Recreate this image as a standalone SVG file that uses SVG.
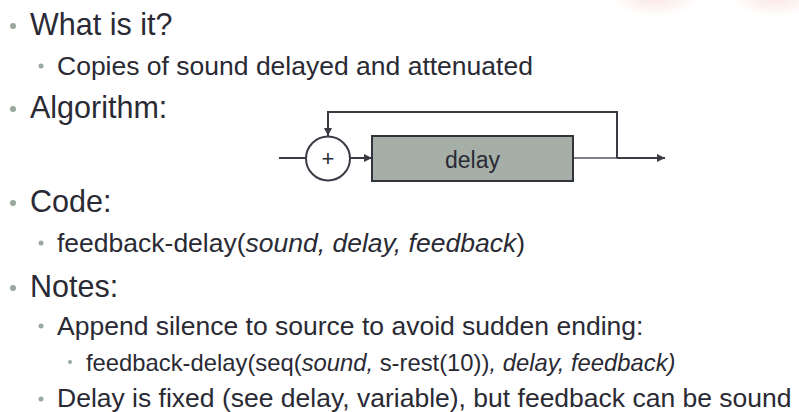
<svg xmlns="http://www.w3.org/2000/svg" width="799" height="412" viewBox="0 0 799 412">
<defs>
<radialGradient id="glow" cx="0.5" cy="0.5" r="0.5">
<stop offset="0" stop-color="#f2c4b4" stop-opacity="0.45"/>
<stop offset="1" stop-color="#f2c4b4" stop-opacity="0"/>
</radialGradient>
<marker id="arr" viewBox="0 0 10 10" refX="10" refY="5" markerWidth="8" markerHeight="8" markerUnits="userSpaceOnUse" orient="auto">
<path d="M0,0 L10,5 L0,10 z" fill="#3a3a44"/>
</marker>
<style>
text{font-family:"Liberation Sans",Arial,sans-serif;fill:#2a2a34}
.l1{font-size:30.5px}
.l2{font-size:26.5px}
.l3{font-size:23.8px}
.b{fill:#9aa89d}
.ln{stroke:#3a3a44;stroke-width:2;fill:none}
</style>
</defs>
<rect width="799" height="412" fill="#ffffff"/>
<ellipse cx="655" cy="-5" rx="45" ry="22" fill="url(#glow)"/>
<ellipse cx="775" cy="-5" rx="45" ry="22" fill="url(#glow)"/>

<g id="bullets">
<circle class="b" cx="13" cy="26" r="3"/>
<circle class="b" cx="41" cy="66" r="2.5"/>
<circle class="b" cx="13" cy="109" r="3"/>
<circle class="b" cx="13" cy="203" r="3"/>
<circle class="b" cx="41" cy="243" r="2.5"/>
<circle class="b" cx="13" cy="288" r="3"/>
<circle class="b" cx="41" cy="326" r="2.5"/>
<circle class="b" cx="70" cy="362" r="2"/>
<circle class="b" cx="41" cy="399" r="2.5"/>
</g>

<g id="texts">
<text class="l1" x="30" y="35">What is it?</text>
<text class="l2" x="57" y="75">Copies of sound delayed and attenuated</text>
<text class="l1" x="30" y="118">Algorithm:</text>
<text class="l1" x="30" y="212">Code:</text>
<text class="l2" x="57" y="252">feedback-delay(<tspan font-style="italic">sound, delay, feedback</tspan>)</text>
<text class="l1" x="30" y="297">Notes:</text>
<text class="l2" x="57" y="335">Append silence to source to avoid sudden ending:</text>
<text class="l3" x="86" y="371">feedback-delay(seq(<tspan font-style="italic">sound,</tspan> s-rest(10))<tspan font-style="italic">, delay, feedback)</tspan></text>
<text class="l2" x="57" y="407">Delay is fixed (see delay, variable), but feedback can be sound</text>
</g>

<g id="connectors">
<line class="ln" x1="279" y1="158" x2="306" y2="158"/>
<line class="ln" x1="350" y1="158" x2="372" y2="158" marker-end="url(#arr)"/>
<line x1="573" y1="158" x2="617" y2="158" stroke="#55555f" stroke-width="1.5"/>
<line class="ln" x1="617" y1="158" x2="665" y2="158" marker-end="url(#arr)"/>
<polyline class="ln" points="617,158 617,112 328,112 328,136" marker-end="url(#arr)"/>
</g>

<g id="sum">
<circle cx="328" cy="158.5" r="22" fill="#ffffff" stroke="#3a3a44" stroke-width="2"/>
<text x="328" y="166" font-size="22" text-anchor="middle">+</text>
</g>

<g id="delay">
<rect x="372" y="136" width="201" height="45" fill="#a5aea7" stroke="#33333d" stroke-width="2"/>
<text x="472.5" y="168" font-size="23" text-anchor="middle">delay</text>
</g>
</svg>
